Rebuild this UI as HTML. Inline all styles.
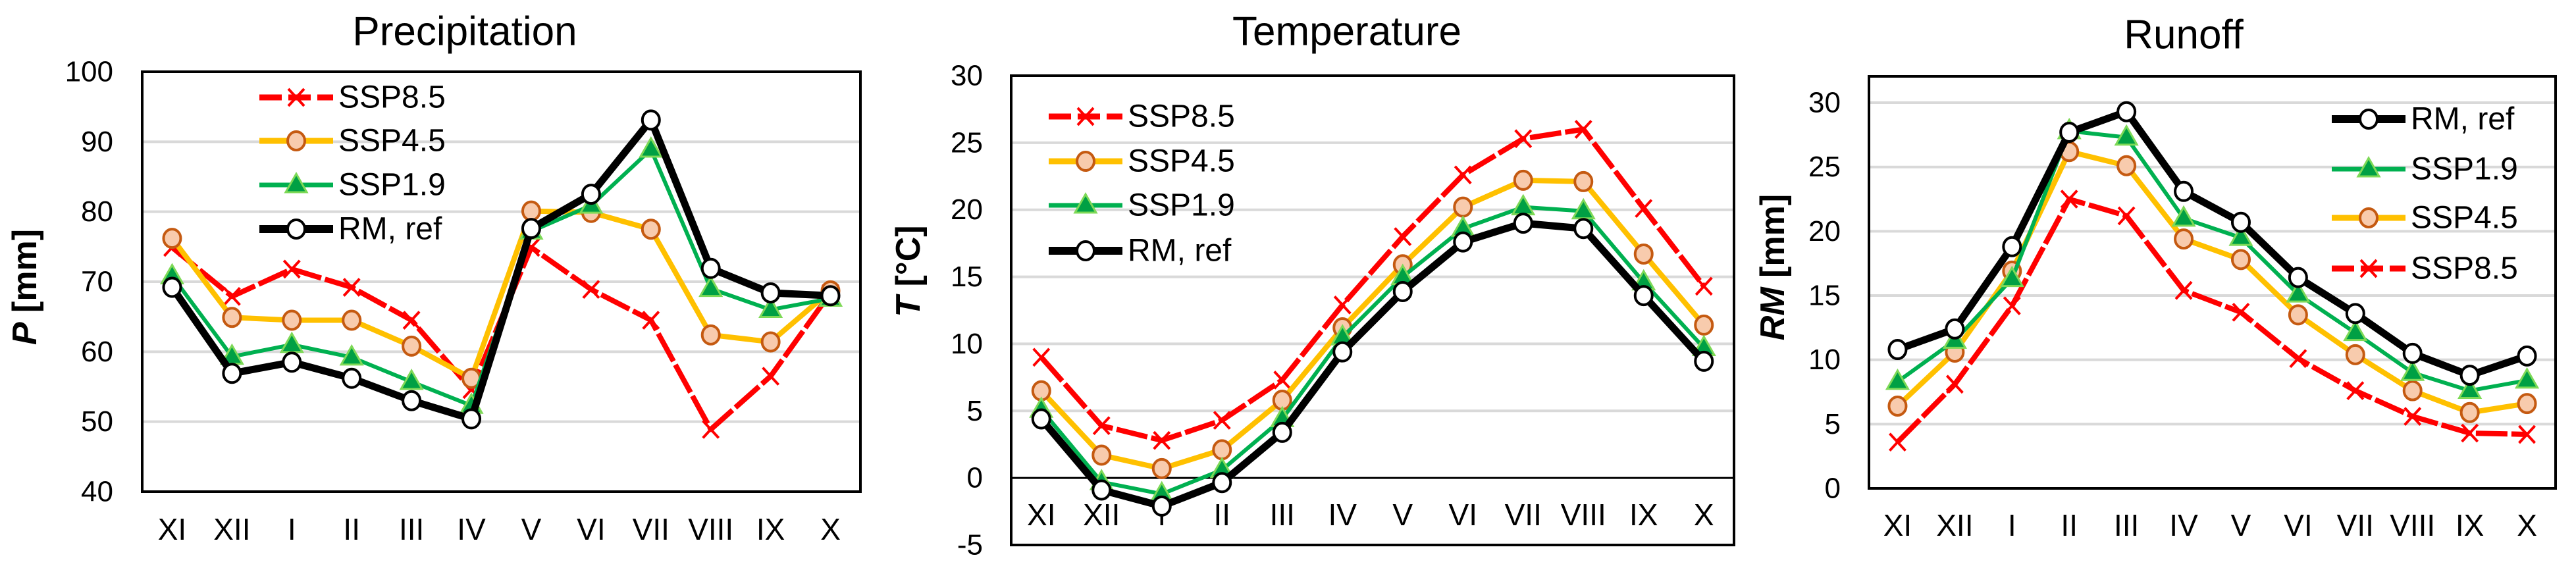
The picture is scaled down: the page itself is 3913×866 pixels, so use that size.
<!DOCTYPE html>
<html><head><meta charset="utf-8"><style>
html,body{margin:0;padding:0;background:#fff;}
svg{display:block;font-family:"Liberation Sans",Arial,sans-serif;}
</style></head>
<body>
<svg id="chart" width="3913" height="866" viewBox="0 0 3913 866" xmlns="http://www.w3.org/2000/svg"></svg>
<script>
const months = ["XI","XII","I","II","III","IV","V","VI","VII","VIII","IX","X"];
// Precipitation
const pRef = [69.2,56.9,58.5,56.2,53.0,50.4,77.6,82.5,93.1,71.9,68.4,68.0];
const p19  = [70.8,59.3,61.0,59.2,55.7,52.3,77.2,80.9,88.9,69.0,66.0,67.6];
const p45  = [76.2,64.9,64.5,64.5,60.8,56.2,80.1,79.9,77.5,62.4,61.4,68.7];
const p85  = [74.9,67.9,71.8,69.2,64.5,54.6,74.9,68.9,64.5,48.9,56.5,68.4];
const pTicks = [40,50,60,70,80,90,100];
// Temperature
const tRef = [4.4,-0.9,-2.1,-0.35,3.4,9.4,13.9,17.6,19.0,18.6,13.6,8.7];
const t19  = [5.1,-0.3,-1.2,0.6,4.4,10.5,15.0,18.6,20.2,19.9,14.6,9.7];
const t45  = [6.5,1.7,0.7,2.1,5.8,11.2,15.9,20.2,22.2,22.1,16.7,11.4];
const t85  = [9.0,3.9,2.8,4.3,7.3,12.9,18.0,22.6,25.3,26.0,20.1,14.3];
const tTicks = [-5,0,5,10,15,20,25,30];
// Runoff
const rRef = [10.8,12.4,18.8,27.7,29.3,23.1,20.7,16.4,13.6,10.5,8.8,10.3];
const r19  = [8.3,11.5,16.3,27.8,27.3,21.0,19.5,15.1,12.1,9.0,7.6,8.4];
const r45  = [6.4,10.6,16.9,26.2,25.1,19.4,17.8,13.5,10.4,7.6,5.9,6.6];
const r85  = [3.6,8.1,14.2,22.5,21.2,15.4,13.7,10.1,7.6,5.6,4.3,4.2];
const rTicks = [0,5,10,15,20,25,30];

const NS="http://www.w3.org/2000/svg";
const svg=document.getElementById('chart');
function mk(tag,attrs,parent){const e=document.createElementNS(NS,tag);for(const k in attrs)e.setAttribute(k,attrs[k]);(parent||svg).appendChild(e);return e;}
function txt(p,x,y,s,size,anchor,weight){
  const t=mk('text',{x:x,y:y,'font-size':size,'text-anchor':anchor||'start','font-weight':weight||'normal',fill:'#000','dominant-baseline':'central'},p);
  t.textContent=s;return t;}

const styles={
  ref:{color:'#000',w:11,label:'RM, ref'},
  s19:{color:'#00b050',w:6,label:'SSP1.9'},
  s45:{color:'#ffc000',w:8,label:'SSP4.5'},
  s85:{color:'#ff0000',w:8,label:'SSP8.5',dash:'48 6'}
};
function marker(g,key,x,y){
  if(key==='ref'){mk('ellipse',{cx:x,cy:y,rx:13,ry:14,fill:'#fff',stroke:'#000','stroke-width':4},g);}
  else if(key==='s45'){mk('ellipse',{cx:x,cy:y,rx:13,ry:14,fill:'#f8cbad',stroke:'#c55a11','stroke-width':4},g);}
  else if(key==='s19'){mk('polygon',{points:`${x},${y-17} ${x+16},${y+11} ${x-16},${y+11}`,fill:'#00a044',stroke:'#7ed957','stroke-width':3},g);}
  else {mk('path',{d:`M${x-12},${y-13}L${x+12},${y+13}M${x+12},${y-13}L${x-12},${y+13}`,stroke:'#ff0000','stroke-width':4,fill:'none'},g);}
}
function panel(cfg){
  const g=mk('g',{});
  
  
  const {L,R,T,B,min,max}=cfg;
  const ys=v=>B-(v-min)/(max-min)*(B-T);
  const step=(R-L)/months.length;
  const xs=i=>L+step*(i+0.5);
  cfg.ticks.forEach(v=>{
    if(v!==min&&v!==max&&v!==0){const gl=mk('line',{x1:L,x2:R,y1:ys(v),y2:ys(v),stroke:'#d9d9d9','stroke-width':4},g);
      }
    const tl=txt(g,cfg.tickX,ys(v),String(v),44,'end');
    
  });
  if(min<0){const z=mk('line',{x1:L,x2:R,y1:ys(0),y2:ys(0),stroke:'#000','stroke-width':3},g);
    }
  const box=mk('rect',{x:L,y:T,width:R-L,height:B-T,fill:'none',stroke:'#000','stroke-width':4},g);
  
  months.forEach((m,i)=>{const t=txt(g,xs(i),cfg.labY,m,46,'middle');
    });
  const tt=txt(g,cfg.titleX,cfg.titleY,cfg.title,62,'middle');
  
  const yt=mk('text',{x:0,y:0,'font-size':52,'font-weight':'bold','text-anchor':'middle','dominant-baseline':'central',
    transform:`translate(${cfg.ytX},${cfg.ytY}) rotate(-90)`},g);
  
  const it=mk('tspan',{'font-style':'italic'},yt);it.textContent=cfg.ytItal;
  const rt=mk('tspan',{},yt);rt.textContent=cfg.ytRest;
  cfg.series.forEach(([key,data])=>{
    const st=styles[key];
    const sg=mk('g',{},g);
    
    
    const pts=data.map((v,i)=>`${xs(i)},${ys(v)}`).join(' ');
    const a={points:pts,fill:'none',stroke:st.color,'stroke-width':st.w,'stroke-linejoin':'round'};
    if(st.dash)a['stroke-dasharray']=st.dash;
    mk('polyline',a,sg);
    data.forEach((v,i)=>marker(sg,key,xs(i),ys(v)));
  });
  cfg.legend.forEach((key,i)=>{
    const st=styles[key];const y=cfg.legY[i];
    const lg=mk('g',{},g);
    
    
    const a={x1:cfg.legX,x2:cfg.legX+112,y1:y,y2:y,stroke:st.color,'stroke-width':st.w+1};
    if(st.dash)a['stroke-dasharray']='34 10';
    mk('line',a,lg);
    marker(lg,key,cfg.legX+56,y);
    txt(lg,cfg.legX+120,y,st.label,48,'start');
  });
}
panel({name:'precipitation',L:216,R:1307,T:109,B:747,min:40,max:100,ticks:pTicks,tickX:172,labY:804,
  title:'Precipitation',titleX:706,titleY:48,ytX:38,ytY:436,ytItal:'P',ytRest:' [mm]',
  series:[['s85',p85],['s45',p45],['s19',p19],['ref',pRef]],
  legend:['s85','s45','s19','ref'],legX:394,legY:[148,214,281,348]});
panel({name:'temperature',L:1536,R:2634,T:115,B:828,min:-5,max:30,ticks:tTicks,tickX:1493,labY:782,
  title:'Temperature',titleX:2046,titleY:48,ytX:1380,ytY:412,ytItal:'T',ytRest:' [°C]',
  series:[['s85',t85],['s45',t45],['s19',t19],['ref',tRef]],
  legend:['s85','s45','s19','ref'],legX:1593,legY:[177,245,312,381]});
panel({name:'runoff',L:2839,R:3882,T:116,B:742,min:0,max:32.05,ticks:rTicks,tickX:2796,labY:798,
  title:'Runoff',titleX:3317,titleY:53,ytX:2693,ytY:406,ytItal:'RM',ytRest:' [mm]',
  series:[['s85',r85],['s45',r45],['s19',r19],['ref',rRef]],
  legend:['ref','s19','s45','s85'],legX:3542,legY:[181,257,331,408]});
</script>
</body></html>
